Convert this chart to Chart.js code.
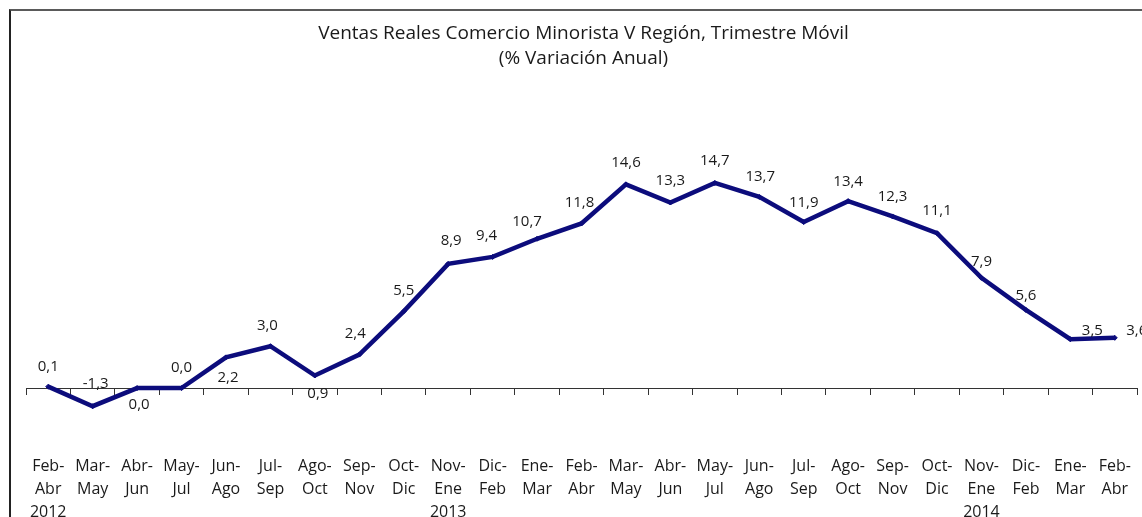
<!DOCTYPE html>
<html>
<head>
<meta charset="utf-8">
<title>Ventas Reales Comercio Minorista V Región</title>
<script src="https://cdn.jsdelivr.net/npm/chart.js@4.4.1/dist/chart.umd.min.js"></script>
<style>
    html, body { margin: 0; padding: 0; background: #fff; overflow: hidden; }
    #wrap { position: relative; width: 1142px; height: 517px; overflow: hidden; }
    #frame {
        position: absolute; left: 9px; top: 9px; width: 1300px; height: 700px;
        border-left: 2px solid #222; border-top: 2px solid #5a5a5a;
        pointer-events: none;
    }
    #box { position: absolute; left: 0; top: 0; width: 1142px; height: 527px; }
</style>
</head>
<body>
<div id="wrap">
    <div id="box"><canvas id="ventas-chart"></canvas></div>
    <div id="frame"></div>
</div>
<script>
// categorias (trimestre movil)
const periodos = [
    ['Feb-', 'Abr', '2012'], ['Mar-', 'May'], ['Abr-', 'Jun'], ['May-', 'Jul'], ['Jun-', 'Ago'],
    ['Jul-', 'Sep'], ['Ago-', 'Oct'], ['Sep-', 'Nov'], ['Oct-', 'Dic'], ['Nov-', 'Ene', '2013'],
    ['Dic-', 'Feb'], ['Ene-', 'Mar'], ['Feb-', 'Abr'], ['Mar-', 'May'], ['Abr-', 'Jun'],
    ['May-', 'Jul'], ['Jun-', 'Ago'], ['Jul-', 'Sep'], ['Ago-', 'Oct'], ['Sep-', 'Nov'],
    ['Oct-', 'Dic'], ['Nov-', 'Ene', '2014'], ['Dic-', 'Feb'], ['Ene-', 'Mar'], ['Feb-', 'Abr']
];

// % variacion anual
const variacion = [
    0.1, -1.3, 0.0, 0.0, 2.2, 3.0, 0.9, 2.4, 5.5, 8.9, 9.4, 10.7, 11.8,
    14.6, 13.3, 14.7, 13.7, 11.9, 13.4, 12.3, 11.1, 7.9, 5.6, 3.5, 3.6
];

const titulo = ['Ventas Reales Comercio Minorista V Región, Trimestre Móvil', '(% Variación Anual)'];

// where each value label sits relative to its point (style only)
const labelOffsets = [
    [0, -20], [3, -22], [2, 17], [0, -20], [2, 20], [-3, -20], [3, 18], [-4, -21], [0, -21],
    [3, -23], [-6, -21], [-10, -17], [-2, -21], [0, -22], [0, -22], [0, -22], [1, -20],
    [0, -19], [0, -19], [0, -20], [0, -22], [0, -16], [0, -14], [22, -8], [22, -7]
];

const valueLabels = {
    id: 'valueLabels',
    afterDatasetsDraw(chart) {
        const ctx = chart.ctx;
        const meta = chart.getDatasetMeta(0);
        ctx.save();
        ctx.font = '15px "Open Sans"';
        ctx.fillStyle = '#1a1a1a';
        ctx.textAlign = 'center';
        ctx.textBaseline = 'middle';
        meta.data.forEach((pt, i) => {
            const off = labelOffsets[i];
            const txt = variacion[i].toFixed(1).replace('.', ',');
            ctx.fillText(txt, pt.x + off[0], pt.y + off[1]);
        });
        ctx.restore();
    }
};

const ctx = document.getElementById('ventas-chart').getContext('2d');

const ventasChart = new Chart(ctx, {
    type: 'line',
    data: {
        labels: periodos,
        datasets: [{
            data: variacion,
            borderColor: '#0c0c7c',
            backgroundColor: '#0c0c7c',
            borderWidth: 4.5,
            pointStyle: 'rectRot',
            pointRadius: 2.5,
            pointBorderWidth: 1,
            tension: 0,
            xAxisID: 'x',
            yAxisID: 'y'
        }]
    },
    options: {
        responsive: true,
        maintainAspectRatio: false,
        animation: false,
        layout: {
            padding: { left: 26, right: 1, top: 0, bottom: 0 }
        },
        plugins: {
            legend: { display: false },
            tooltip: { enabled: false },
            title: {
                display: true,
                text: titulo,
                color: '#1a1a1a',
                font: { family: 'Open Sans', size: 19, weight: 'normal', lineHeight: 1.316 },
                padding: { top: 21, bottom: 38 }
            }
        },
        scales: {
            x: {
                type: 'category',
                offset: true,
                grid: { display: false },
                border: { display: false },
                ticks: {
                    autoSkip: false,
                    maxRotation: 0,
                    minRotation: 0,
                    padding: 3,
                    color: '#1a1a1a',
                    font: { family: 'Open Sans', size: 16, lineHeight: 1.44 }
                }
            },
            // zero line with tick marks between categories
            x0: {
                type: 'category',
                position: { y: 0 },
                offset: true,
                grid: {
                    display: true,
                    offset: true,
                    drawOnChartArea: false,
                    drawTicks: true,
                    tickLength: 6,
                    color: '#333',
                    lineWidth: 1
                },
                border: { display: true, color: '#333', width: 1 },
                ticks: { display: false }
            },
            y: {
                display: false,
                min: -4,
                max: 20
            }
        }
    },
    plugins: [valueLabels]
});
</script>
</body>
</html>
